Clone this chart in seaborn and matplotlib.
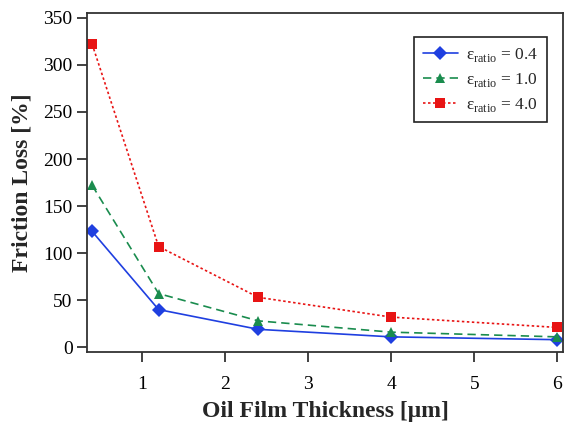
import numpy as np
import pandas as pd
import matplotlib
matplotlib.use("Agg")
import matplotlib.pyplot as plt
import seaborn as sns

# ─── Data ─────────────────────────────────────────────────────────────────────
thickness = [0.4, 1.2, 2.4, 4.0, 6.0]
loss_04 = [123, 40, 19, 11, 8]
loss_10 = [172, 57, 28, 16, 11]
loss_40 = [322, 107, 53, 32, 21]

labels = [r"ε$_{\mathrm{ratio}}$ = 0.4",
          r"ε$_{\mathrm{ratio}}$ = 1.0",
          r"ε$_{\mathrm{ratio}}$ = 4.0"]

df = pd.DataFrame({
    "x": thickness * 3,
    "y": loss_04 + loss_10 + loss_40,
    "series": [labels[0]] * 5 + [labels[1]] * 5 + [labels[2]] * 5,
})

# ─── Styling ──────────────────────────────────────────────────────────────────
sns.set_style("ticks")
plt.rcParams["font.family"] = ["Liberation Serif", "DejaVu Serif"]
plt.rcParams["mathtext.fontset"] = "custom"
plt.rcParams["mathtext.rm"] = "Liberation Serif"
plt.rcParams["axes.linewidth"] = 1.3

colors = ["#1f3fe0", "#1a8c4e", "#e81414"]
markers = ["D", "^", "s"]
dashes = ["", (5, 3), (1.5, 1.5)]

fig = plt.figure(figsize=(5.66, 4.24), dpi=100)
ax = fig.add_axes([0.154, 0.170, 0.841, 0.799])

sns.lineplot(
    data=df, x="x", y="y", hue="series", style="series",
    palette=dict(zip(labels, colors)),
    markers=dict(zip(labels, markers)),
    dashes=dict(zip(labels, dashes)),
    markersize=7, markeredgewidth=0, linewidth=1.2, ax=ax,
)

ax.set_xlim(0.34, 6.07)
ax.set_ylim(-5, 355)
ax.set_xticks([1, 2, 3, 4, 5, 6])
ax.set_yticks(np.arange(0, 351, 50))
ax.tick_params(direction="out", length=7, width=1.3, labelsize=14, colors="#333333",
               labelcolor="black")
ax.tick_params(axis="x", pad=10)
for s in ax.spines.values():
    s.set_color("#333333")

ax.set_xlabel("Oil Film Thickness [μm]", fontsize=17, fontweight="bold", labelpad=6)
ax.set_ylabel("Friction Loss [%]", fontsize=17, fontweight="bold", labelpad=8)

leg = ax.legend(loc="upper right", bbox_to_anchor=(0.985, 0.955), fontsize=12.5,
                frameon=True, fancybox=False, edgecolor="#222222", framealpha=1,
                handlelength=2.0, handletextpad=0.5, borderpad=0.5, labelspacing=0.4)
leg.get_frame().set_linewidth(1.2)

fig.savefig("out.png", dpi=100)
